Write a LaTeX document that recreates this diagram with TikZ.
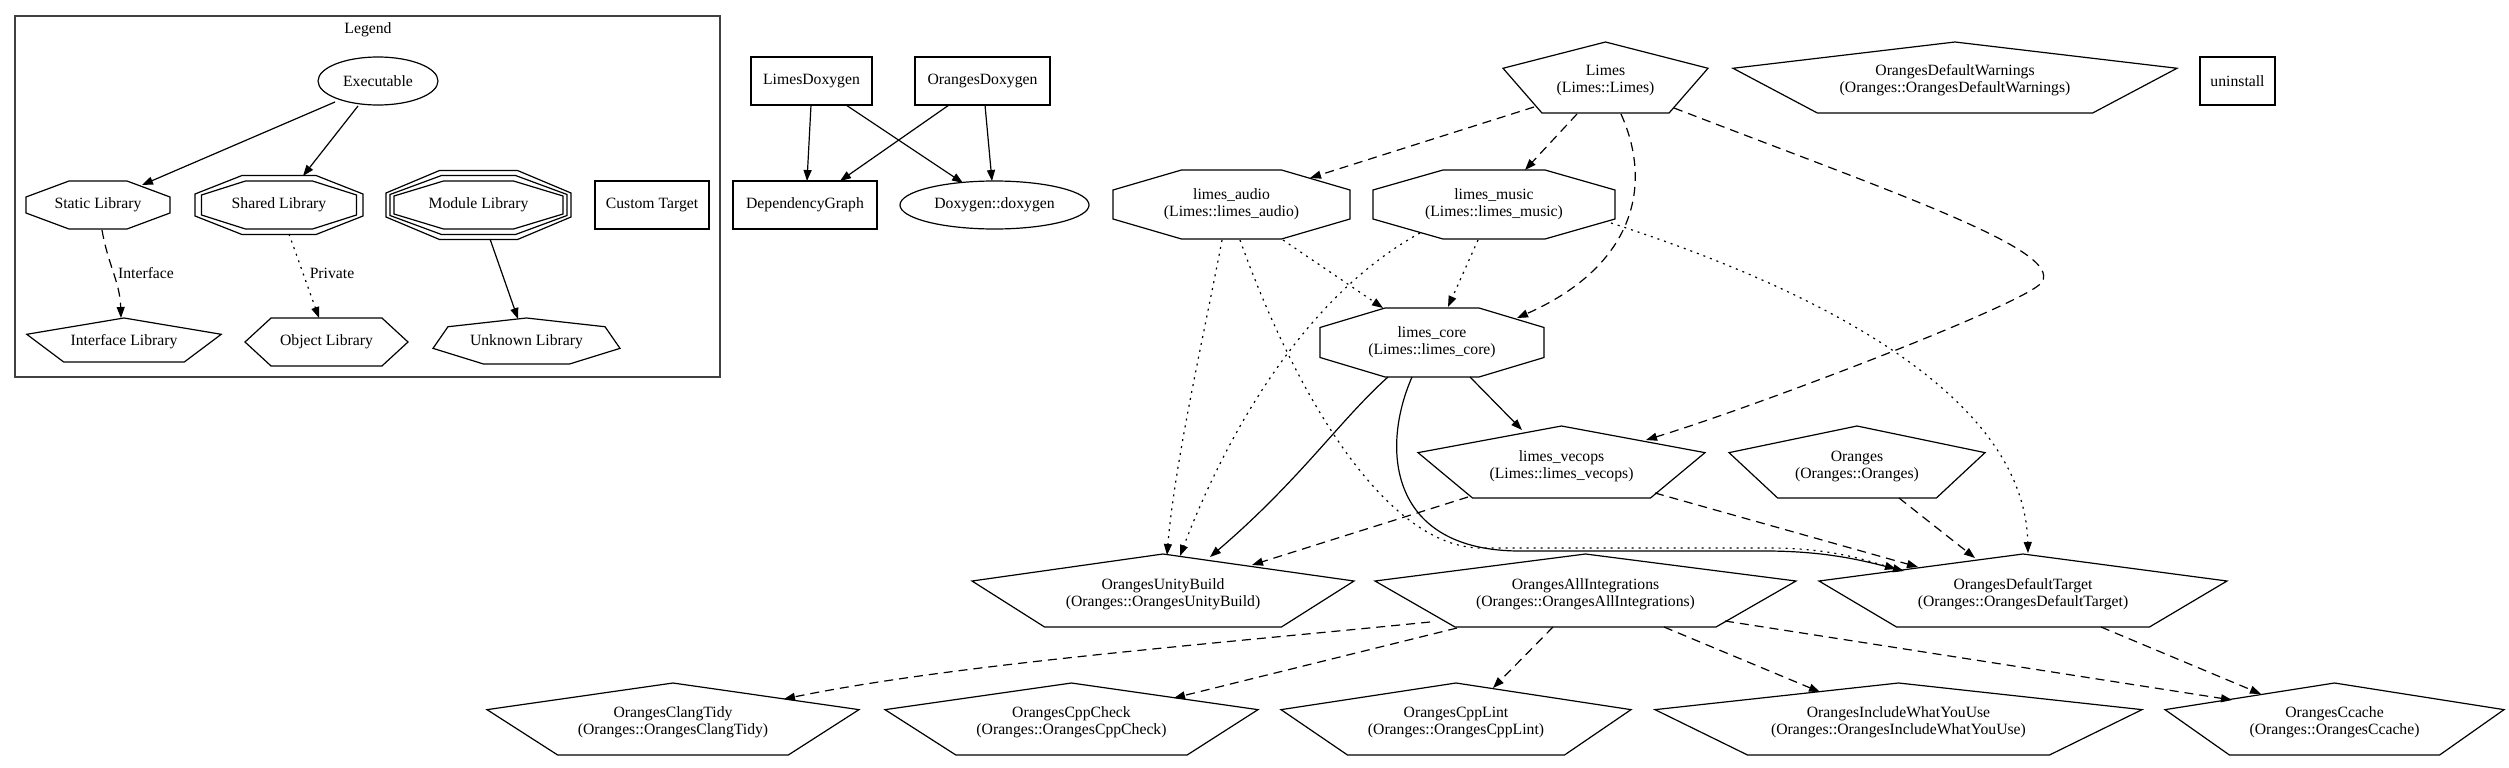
\documentclass[tikz,border=0pt]{standalone}
\usepackage{fontspec}
\setmainfont{Liberation Serif}
\usetikzlibrary{calc,shapes.geometric,arrows.meta}

\newcommand\gvf{\fontsize{15.7}{17}\selectfont}
% pentagon: node, w, h, c (bbox centre offset from node centre)
\newcommand\pentshape[4]{%
  \draw[shp] ($(#1.center)+(0,{#4-#3/2})$) -- ($(#1.center)+({#2/2},{#4-0.13*#3})$)
   -- ($(#1.center)+({0.31*#2},{#4+#3/2})$) -- ($(#1.center)+({-0.31*#2},{#4+#3/2})$)
   -- ($(#1.center)+({-#2/2},{#4-0.13*#3})$) -- cycle;}
% octagon: node, w, h, a (top half length), b (side half length)
\newcommand\octshape[5]{%
  \draw[shp] ($(#1.center)+({-#4},{-#3/2})$) -- ($(#1.center)+({#4},{-#3/2})$)
   -- ($(#1.center)+({#2/2},{-#5})$) -- ($(#1.center)+({#2/2},{#5})$)
   -- ($(#1.center)+({#4},{#3/2})$) -- ($(#1.center)+({-#4},{#3/2})$)
   -- ($(#1.center)+({-#2/2},{#5})$) -- ($(#1.center)+({-#2/2},{-#5})$) -- cycle;}
\newcommand\hexshape[3]{%
  \draw[shp] ($(#1.center)+({-0.34*#2},{-#3/2})$) -- ($(#1.center)+({0.34*#2},{-#3/2})$)
   -- ($(#1.center)+({#2/2},0)$) -- ($(#1.center)+({0.34*#2},{#3/2})$)
   -- ($(#1.center)+({-0.34*#2},{#3/2})$) -- ($(#1.center)+({-#2/2},0)$) -- cycle;}
\newcommand\septshape[4]{%
  \draw[shp] ($(#1.center)+(0,{#4-#3/2})$) -- ($(#1.center)+({0.42*#2},{#4-0.31*#3})$)
   -- ($(#1.center)+({0.5*#2},{#4+0.16*#3})$) -- ($(#1.center)+({0.23*#2},{#4+#3/2})$)
   -- ($(#1.center)+({-0.23*#2},{#4+#3/2})$) -- ($(#1.center)+({-0.5*#2},{#4+0.16*#3})$)
   -- ($(#1.center)+({-0.42*#2},{#4-0.31*#3})$) -- cycle;}

\begin{document}
\begin{tikzpicture}[x=1pt,y=-1pt,
  every node/.style={inner sep=0pt,outer sep=0pt,align=center,font=\gvf},
  shp/.style={line width=1.2pt,line join=miter},
  box/.style={draw,shp,rectangle,minimum height=48pt},
  ell/.style={draw,shp,ellipse,minimum height=48pt},
  edge/.style={line width=1.2pt,-{Triangle[length=11pt,width=8pt]}},
  dsh/.style={edge,dash pattern=on 9pt off 6pt},
  dot/.style={edge,dash pattern=on 2pt off 5pt}]
\useasboundingbox (0,0) rectangle (2509,768);

% ---------------- Legend ----------------
\node[draw=black!75,line width=1.6pt,minimum width=705pt,minimum height=361pt] (legendbox) at (367.5,196.5) {};
\node (legendtitle) at (368,30) {Legend};
\node[ell,minimum width=120pt] (exe) at (378,81) {Executable};
\node (static) at (98,205) {Static Library};
\octshape{static}{144}{48}{29}{8}
\node (shared) at (279,205) {Shared Library};
\octshape{shared}{155}{48}{33.5}{10}
\octshape{shared}{168}{59}{37}{11}
\node (module) at (478.5,205) {Module Library};
\octshape{module}{169}{48}{35}{9}
\octshape{module}{177}{59}{37}{10.5}
\octshape{module}{185}{69}{39}{12}
\node[box,minimum width=114pt] (custom) at (652,205) {Custom Target};
\node (iface) at (124,342) {Interface Library};
\pentshape{iface}{194.5}{44}{-2}
\node (objlib) at (326.5,342) {Object Library};
\hexshape{objlib}{163}{48}
\node (unknown) at (526.5,341.5) {Unknown Library};
\septshape{unknown}{187}{46}{-0.5}
\node (lblinterface) at (146,273) {Interface};
\node (lblprivate) at (332,273) {Private};

\draw[edge] ($(exe.center)+(-43,21)$) -- ($(static.center)+(44,-20)$);
\draw[edge] ($(exe.center)+(-20,25)$) -- ($(shared.center)+(24,-29)$);
\draw[dsh] ($(static.center)+(4,25)$) .. controls ($(static.center)+(10,60)$) and ($(iface.center)+(-4,-60)$) .. ($(iface.center)+(-3,-24)$);
\draw[dot] ($(shared.center)+(10,29)$) -- ($(objlib.center)+(-7.5,-24)$);
\draw[edge] ($(module.center)+(11.5,34)$) -- ($(unknown.center)+(-8.5,-22.5)$);

% ---------------- Main graph ----------------
\node[box,minimum width=121pt] (limesdox) at (811.5,81) {LimesDoxygen};
\node[box,minimum width=135pt] (orangesdox) at (982.5,81) {OrangesDoxygen};
\node[box,minimum width=144pt] (depgraph) at (805,205) {DependencyGraph};
\node[ell,minimum width=189pt] (doxygen) at (994.5,205) {Doxygen::doxygen};

\node (audio) at (1231.5,204.5) {limes\_audio\\(Limes::limes\_audio)};
\octshape{audio}{237}{69}{50}{14.5}
\node (music) at (1494,204.5) {limes\_music\\(Limes::limes\_music)};
\octshape{music}{242}{69}{51}{14.5}
\node (core) at (1432,342.5) {limes\_core\\(Limes::limes\_core)};
\octshape{core}{224}{69}{47}{15}
\node (limes) at (1605.5,80) {Limes\\(Limes::Limes)};
\pentshape{limes}{205}{71}{-2.5}
\node (warnings) at (1955,80) {OrangesDefaultWarnings\\(Oranges::OrangesDefaultWarnings)};
\pentshape{warnings}{444}{71}{-2.5}
\node[box,minimum width=75pt] (uninstall) at (2237.5,81) {uninstall};
\node (vecops) at (1561.5,466) {limes\_vecops\\(Limes::limes\_vecops)};
\pentshape{vecops}{287}{72}{-4}
\node (oranges) at (1857,466) {Oranges\\(Oranges::Oranges)};
\pentshape{oranges}{256}{72}{-4}
\node (unity) at (1163,594) {OrangesUnityBuild\\(Oranges::OrangesUnityBuild)};
\pentshape{unity}{382}{73}{-3.5}
\node (allint) at (1585.5,594) {OrangesAllIntegrations\\(Oranges::OrangesAllIntegrations)};
\pentshape{allint}{421}{73}{-3.5}
\node (deftarget) at (2023,594) {OrangesDefaultTarget\\(Oranges::OrangesDefaultTarget)};
\pentshape{deftarget}{408}{73}{-3.5}
\node (clangtidy) at (673,722.5) {OrangesClangTidy\\(Oranges::OrangesClangTidy)};
\pentshape{clangtidy}{372}{72}{-3.5}
\node (cppcheck) at (1071.5,722.5) {OrangesCppCheck\\(Oranges::OrangesCppCheck)};
\pentshape{cppcheck}{373}{72}{-3.5}
\node (cpplint) at (1456,722.5) {OrangesCppLint\\(Oranges::OrangesCppLint)};
\pentshape{cpplint}{350}{72}{-3.5}
\node (iwyu) at (1898.5,722.5) {OrangesIncludeWhatYouUse\\(Oranges::OrangesIncludeWhatYouUse)};
\pentshape{iwyu}{487}{72}{-3.5}
\node (ccache) at (2334.5,722.5) {OrangesCcache\\(Oranges::OrangesCcache)};
\pentshape{ccache}{339}{72}{-3.5}

% doxygen edges
\draw[edge] ($(limesdox.center)+(-0.5,24)$) -- ($(depgraph.center)+(2,-24)$);
\draw[edge] ($(limesdox.center)+(34.5,24)$) -- ($(doxygen.center)+(-31.5,-22)$);
\draw[edge] ($(orangesdox.center)+(-33.5,24)$) -- ($(depgraph.center)+(35,-24)$);
\draw[edge] ($(orangesdox.center)+(2.5,24)$) -- ($(doxygen.center)+(-2.5,-24)$);

% Limes edges
\draw[dsh] ($(limes.center)+(-71.5,27)$) -- ($(audio.center)+(78.5,-26.5)$);
\draw[dsh] ($(limes.center)+(-28.5,34)$) -- ($(music.center)+(31,-34.5)$);
\draw[dsh] ($(limes.center)+(15.5,34)$) .. controls ($(limes.center)+(49.5,110)$) and ($(core.center)+(198,-74.5)$) .. ($(core.center)+(85,-24.5)$);
\draw[dsh] ($(limes.center)+(68.5,28)$) .. controls (1900,195) and (2062,250) .. (2042,282)
  .. controls (2030,302) and (1760,405) .. ($(vecops.center)+(84.5,-26)$);

% limes_music / limes_audio edges
\draw[dot] ($(music.center)+(-16,35.5)$) -- ($(core.center)+(16,-35.5)$);
\draw[dot] ($(audio.center)+(51.5,35.5)$) -- ($(core.center)+(-49,-34.5)$);
\draw[dot] ($(audio.center)+(-9.5,35.5)$) .. controls (1205,330) and (1175,460) .. ($(unity.center)+(4,-39)$);
\draw[dot] ($(music.center)+(-74,28.5)$) .. controls (1280,310) and (1205,490) .. ($(unity.center)+(17,-38)$);
\draw[dot] ($(audio.center)+(8.5,35.5)$) .. controls (1290,380) and (1380,545) .. (1479,548)
  -- (1770,548) .. controls (1830,548) and (1865,560) .. ($(deftarget.center)+(-127,-25)$);
\draw[dot] ($(music.center)+(117,18.5)$) .. controls (1880,310) and (2025,420) .. ($(deftarget.center)+(5,-41)$);

% limes_core edges
\draw[edge] ($(core.center)+(38,34.5)$) -- ($(vecops.center)+(-39.5,-36)$);
\draw[edge] ($(core.center)+(-44,34.5)$) .. controls (1340,420) and (1300,480) .. ($(unity.center)+(47,-37)$);
\draw[edge] ($(core.center)+(-20,34.5)$) .. controls (1380,450) and (1390,551) .. (1520,551)
  -- (1765,551) .. controls (1830,551) and (1868,562) .. ($(deftarget.center)+(-119,-23)$);

% vecops / oranges
\draw[dsh] ($(vecops.center)+(-93.5,31)$) -- ($(unity.center)+(89,-29)$);
\draw[dsh] ($(vecops.center)+(93.5,27)$) -- ($(deftarget.center)+(-105,-27)$);
\draw[dsh] ($(oranges.center)+(42,32)$) -- ($(deftarget.center)+(-48,-36)$);

% integrations
\draw[dsh] ($(allint.center)+(-155.5,28)$) .. controls (1200,645) and (950,665) .. ($(clangtidy.center)+(111,-23.5)$);
\draw[dsh] ($(allint.center)+(-128.5,34)$) -- ($(cppcheck.center)+(102.5,-24.5)$);
\draw[dsh] ($(allint.center)+(-32.5,33)$) -- ($(cpplint.center)+(37,-34.5)$);
\draw[dsh] ($(allint.center)+(78.5,33)$) -- ($(iwyu.center)+(-78.5,-30.5)$);
\draw[dsh] ($(allint.center)+(139.5,27)$) -- ($(ccache.center)+(-102.5,-22.5)$);
\draw[dsh] ($(deftarget.center)+(78,33)$) -- ($(ccache.center)+(-73.5,-28.5)$);
\end{tikzpicture}
\end{document}
